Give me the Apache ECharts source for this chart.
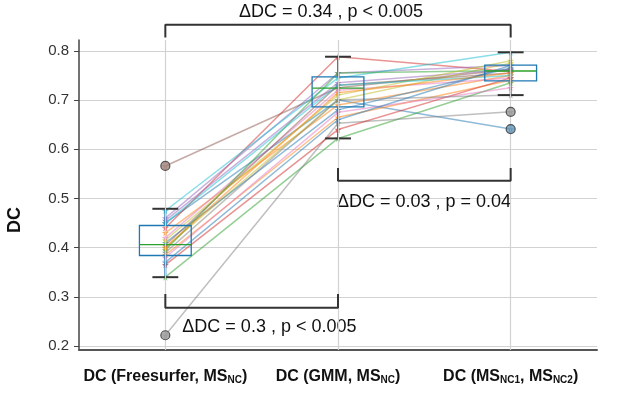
<!DOCTYPE html>
<html>
<head>
<meta charset="utf-8">
<script src="https://cdn.jsdelivr.net/npm/echarts@6/dist/echarts.min.js"></script>
<style>
html, body { margin: 0; padding: 0; background: #fff; }
#chart { width: 637px; height: 398px; }
</style>
</head>
<body>
<div id="chart"></div>
<script>
var categories = ['DC (Freesurfer, MS_NC)', 'DC (GMM, MS_NC)', 'DC (MS_NC1, MS_NC2)'];

// box statistics per category
var boxMin    = [0.340, 0.622, 0.710];
var boxQ1     = [0.384, 0.686, 0.739];
var boxMedian = [0.406, 0.724, 0.759];
var boxQ3     = [0.445, 0.747, 0.771];
var boxMax    = [0.479, 0.788, 0.797];

// per-subject DC values, one entry per subject
var dcFreesurfer = [0.450, 0.430, 0.340, 0.440, 0.460, 0.566, 0.420, 0.222, 0.400, 0.475, 0.410,
                    0.385, 0.395, 0.365, 0.455, 0.405, 0.380, 0.390, 0.415, 0.450, 0.370, 0.400];
var dcGMM        = [0.700, 0.690, 0.622, 0.788, 0.755, 0.725, 0.720, 0.653, 0.700, 0.745, 0.680,
                    0.665, 0.755, 0.640, 0.735, 0.730, 0.675, 0.700, 0.710, 0.730, 0.660, 0.715];
var dcNC         = [0.641, 0.750, 0.735, 0.758, 0.770, 0.762, 0.745, 0.676, 0.775, 0.797, 0.765,
                    0.740, 0.760, 0.745, 0.762, 0.755, 0.725, 0.710, 0.780, 0.750, 0.770, 0.755];

var yLabels = [0.2, 0.3, 0.4, 0.5, 0.6, 0.7, 0.8];

var brackets = [
  { from: 0, to: 2, tip: 0.827, bar: 0.853, text: 'ΔDC = 0.34 , p < 0.005', tx: 1, ty: 0.879, align: 'center', dx: -7 },
  { from: 1, to: 2, tip: 0.562, bar: 0.536, text: 'ΔDC = 0.03 , p = 0.04', tx: 1, ty: 0.493, align: 'left', dx: -1 },
  { from: 0, to: 1, tip: 0.306, bar: 0.278, text: 'ΔDC = 0.3 , p < 0.005', tx: 0, ty: 0.239, align: 'left', dx: 17 }
];

var palette = ['#1f77b4', '#ff7f0e', '#2ca02c', '#d62728', '#9467bd',
               '#8c564b', '#e377c2', '#7f7f7f', '#bcbd22', '#17becf'];
var FONT = '"Liberation Sans", Arial, Helvetica, sans-serif';
var STAR = 'path://M50,0 L61,35 L98,35 L68,57 L79,91 L50,70 L21,91 L32,57 L2,35 L39,35 Z';

var chart = echarts.init(document.getElementById('chart'));

var series = [];

// vertical grid lines at the categories
series.push({
  type: 'line', data: [], z: 0, silent: true,
  markLine: {
    silent: true, symbol: ['none', 'none'], label: { show: false },
    lineStyle: { color: '#d2d2d2', width: 1.2, type: 'solid' },
    data: categories.map(function (c, i) { return { xAxis: i }; })
  }
});

// paired subject lines
var columns = [dcFreesurfer, dcGMM, dcNC];
dcFreesurfer.forEach(function (v, s) {
  var col = palette[s % palette.length];
  series.push({
    type: 'line', z: 2, silent: true,
    data: columns.map(function (arr) { return arr[s]; }),
    symbol: STAR, symbolSize: 7, showSymbol: true,
    lineStyle: { color: col, width: 1.5, opacity: 0.5 },
    itemStyle: { color: col, opacity: 0.65 }
  });
});

// box plots
series.push({
  type: 'custom', z: 4, silent: true,
  data: categories.map(function (c, i) {
    return [i, boxMin[i], boxQ1[i], boxMedian[i], boxQ3[i], boxMax[i]];
  }),
  encode: { x: 0, y: [1, 2, 3, 4, 5] },
  renderItem: function (params, api) {
    var cat = api.value(0);
    var band = api.size([1, 0])[0];
    var half = band * 0.15, cap = band * 0.075;
    var pMin = api.coord([cat, api.value(1)]);
    var pQ1 = api.coord([cat, api.value(2)]);
    var pMed = api.coord([cat, api.value(3)]);
    var pQ3 = api.coord([cat, api.value(4)]);
    var pMax = api.coord([cat, api.value(5)]);
    var x = pMin[0];
    return {
      type: 'group',
      children: [
        { type: 'line', shape: { x1: x, y1: pMin[1], x2: x, y2: pQ1[1] }, style: { stroke: '#1f77b4', lineWidth: 2 } },
        { type: 'line', shape: { x1: x, y1: pQ3[1], x2: x, y2: pMax[1] }, style: { stroke: '#1f77b4', lineWidth: 2 } },
        { type: 'line', shape: { x1: x - cap, y1: pMin[1], x2: x + cap, y2: pMin[1] }, style: { stroke: '#333', lineWidth: 2 } },
        { type: 'line', shape: { x1: x - cap, y1: pMax[1], x2: x + cap, y2: pMax[1] }, style: { stroke: '#333', lineWidth: 2 } },
        { type: 'rect', shape: { x: x - half, y: pQ3[1], width: half * 2, height: pQ1[1] - pQ3[1] },
          style: { fill: 'none', stroke: '#1f77b4', lineWidth: 1.3 } },
        { type: 'line', shape: { x1: x - half, y1: pMed[1], x2: x + half, y2: pMed[1] }, style: { stroke: '#2ca02c', lineWidth: 1.3 } }
      ]
    };
  }
});

// outliers: subject values outside the whiskers
var outliers = [];
columns.forEach(function (arr, c) {
  arr.forEach(function (v, s) {
    if (v < boxMin[c] || v > boxMax[c]) {
      outliers.push({ value: [c, v], itemStyle: { color: echarts.color.lerp(0.45, [palette[s % 10], '#bbbbbb']) } });
    }
  });
});
series.push({
  type: 'scatter', z: 5, silent: true, data: outliers,
  symbol: 'circle', symbolSize: 9,
  itemStyle: { borderColor: '#333', borderWidth: 1.2 }
});

// significance brackets
brackets.forEach(function (b) {
  series.push({
    type: 'line', z: 6, silent: true, clip: false, symbol: 'none',
    data: [[b.from, b.tip], [b.from, b.bar], [b.to, b.bar], [b.to, b.tip]],
    lineStyle: { color: '#333', width: 2 }
  });
});

chart.setOption({
  animation: false,
  backgroundColor: '#fff',
  grid: { left: 79, right: 40, top: 40, bottom: 48 },
  xAxis: {
    type: 'category', data: categories, boundaryGap: true,
    axisLine: { lineStyle: { color: '#555', width: 2 } },
    axisTick: { alignWithLabel: true, length: 4, lineStyle: { color: '#555' } },
    splitLine: { show: false },
    axisLabel: {
      margin: 16, interval: 0,
      formatter: function (v) { return '{b|' + v.replace(/_(\w+)/g, '}{s|$1}{b|') + '}'; },
      rich: {
        b: { fontFamily: FONT, fontSize: 16, fontWeight: 'bold', color: '#111', lineHeight: 19, verticalAlign: 'bottom' },
        s: { fontFamily: FONT, fontSize: 10, fontWeight: 'bold', color: '#111', lineHeight: 19, verticalAlign: 'bottom' }
      }
    }
  },
  yAxis: {
    type: 'value', min: 0.192, max: 0.822, splitNumber: 6,
    axisLine: { show: true, lineStyle: { color: '#444', width: 1.5 } },
    axisTick: { show: true, length: 5, lineStyle: { color: '#444' } },
    axisLabel: {
      fontFamily: FONT, fontSize: 15, color: '#333', margin: 10,
      showMinLabel: false, showMaxLabel: false,
      formatter: function (v) {
        for (var i = 0; i < yLabels.length; i++) {
          if (Math.abs(v - yLabels[i]) < 1e-6) return yLabels[i].toFixed(1);
        }
        return '';
      }
    },
    splitLine: { showMinLine: false, showMaxLine: false, lineStyle: { color: '#d2d2d2', width: 1.2 } }
  },
  series: series
});

// annotation texts placed in data coordinates
var texts = brackets.map(function (b) {
  var p = chart.convertToPixel({ gridIndex: 0 }, [b.tx, b.ty]);
  return {
    type: 'text', x: p[0] + b.dx, y: p[1], silent: true,
    style: { text: b.text, fontFamily: FONT, fontSize: 18, fill: '#111', align: b.align, verticalAlign: 'middle' }
  };
});
texts.push({
  type: 'text', x: 15, y: 220, rotation: Math.PI / 2, silent: true,
  style: { text: 'DC', fontFamily: FONT, fontSize: 18, fontWeight: 'bold', fill: '#111', align: 'center', verticalAlign: 'middle' }
});
chart.setOption({ graphic: texts });
</script>
</body>
</html>
